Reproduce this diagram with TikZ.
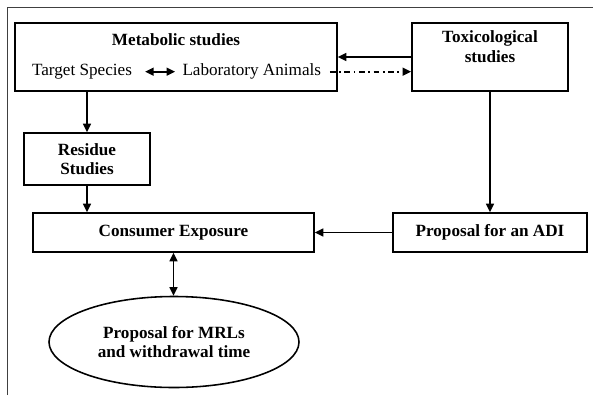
\documentclass[tikz,border=0pt]{standalone}
\usepackage{fontspec}
\setmainfont{Liberation Serif}
\usetikzlibrary{positioning}
\usetikzlibrary{arrows.meta}
\usetikzlibrary{shapes.geometric}

\begin{document}
\begin{tikzpicture}[x=0.7pt, y=-0.7pt,
    font=\fontsize{12}{13.5}\selectfont,
    box/.style={draw, rectangle, line width=1.1pt},
    txt/.style={font=\fontsize{12}{13.5}\selectfont\bfseries, align=center, inner sep=0pt},
    link/.style={line width=1.2pt},
    >={Triangle[length=6pt, width=5.5pt]}]

    \useasboundingbox (0,0) rectangle (593,395);
    \draw[line width=1.3pt, black!75] (7.5,395) -- (7.5,7.5) -- (593,7.5);

    \node[box, minimum width=225.4pt, minimum height=47.6pt] (meta) at (176,57) {};
    \node[txt, anchor=base] (metatitle) at (176,45.5) {Metabolic studies};
    \node[anchor=base, inner sep=0pt] (target) at (82,75.5) {Target Species};
    \node[inner sep=0pt, right=35pt of target] (lab) {Laboratory Animals};

    \node[box, minimum width=109.2pt, minimum height=47.6pt] (tox) at (490,57) {};
    \node[txt, below=6pt of tox.north] (toxtitle) {Toxicological\\studies};

    \node[box, txt, minimum width=88.2pt, minimum height=36.4pt] (residue) at (87,159) {Residue\\Studies};
    \node[box, txt, minimum width=196.7pt, minimum height=27.3pt] (consumer) at (173.5,232.5) {Consumer Exposure};
    \node[box, txt, minimum width=135.8pt, minimum height=27.3pt] (adi) at (490,232.5) {Proposal for an ADI};

    \node[draw, ellipse, line width=1.1pt, txt, minimum width=175pt, minimum height=63.7pt] (mrl) at (174,342) {Proposal for MRLs\\and withdrawal time};

    \draw[link, <->, shorten <=9pt, shorten >=5pt] (target) -- (lab);
    \draw[link, ->, shorten <=6pt, dash pattern=on 4pt off 2.5pt on 1.2pt off 2.5pt] (lab.east) -- (lab.east -| tox.west);
    \draw[link, ->] (tox.west) -- (tox.west -| meta.east);
    \draw[link, ->] (meta.south -| residue.north) -- (residue.north);
    \draw[link, ->] (residue.south) -- (residue.south |- consumer.north);
    \draw[link, ->] (tox.south) -- (adi.north);
    \draw[link, ->] (adi.west) -- (consumer.east);
    \draw[link, <->] (consumer.south) -- (consumer.south |- mrl.north);

\end{tikzpicture}
\end{document}
